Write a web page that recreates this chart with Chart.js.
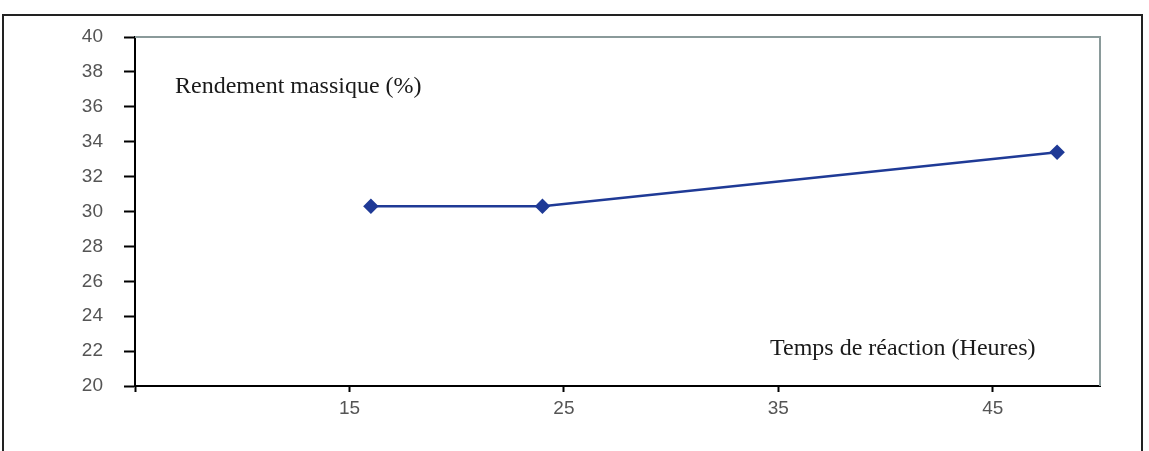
<!DOCTYPE html>
<html>
<head>
<meta charset="utf-8">
<script src="https://cdn.jsdelivr.net/npm/chart.js@4/dist/chart.umd.min.js"></script>
<style>
  html, body { margin: 0; padding: 0; background: #fff; overflow: hidden; }
  #wrap { position: relative; width: 1149px; height: 451px; }
  #frame { position: absolute; left: 2px; top: 14px; width: 1141px; height: 460px; border: 2px solid #222; box-sizing: border-box; pointer-events: none; }
  canvas { position: absolute; left: 0; top: 0; }
</style>
</head>
<body>
<div id="wrap">
  <canvas id="c" width="1149" height="451"></canvas>
  <div id="frame"></div>
</div>
<script>
// ---- data ----
const hours = [16, 24, 48];
const yieldPct = [30.3, 30.3, 33.4];
const xTickValues = [5, 15, 25, 35, 45];
const yTitle = 'Rendement massique (%)';
const xTitle = 'Temps de réaction (Heures)';

const CHART_LEFT = 135, CHART_RIGHT = 1100, CHART_TOP = 37, CHART_BOTTOM = 386;

const decor = {
  id: 'decor',
  afterDraw(chart) {
    const { ctx, chartArea: a } = chart;
    ctx.save();
    ctx.strokeStyle = '#8a9a9a';
    ctx.lineWidth = 2;
    ctx.beginPath();
    ctx.moveTo(a.left, a.top);
    ctx.lineTo(a.right, a.top);
    ctx.lineTo(a.right, a.bottom);
    ctx.stroke();
    ctx.fillStyle = '#1a1a1a';
    ctx.font = '24px "Liberation Serif", "Times New Roman", serif';
    ctx.textBaseline = 'alphabetic';
    ctx.textAlign = 'left';
    ctx.fillText(yTitle, 175, 93);
    ctx.fillText(xTitle, 770, 355);
    ctx.restore();
  }
};

new Chart(document.getElementById('c'), {
  type: 'line',
  data: {
    datasets: [{
      data: hours.map((h, i) => ({ x: h, y: yieldPct[i] })),
      borderColor: '#1f3a96',
      backgroundColor: '#1f3a96',
      borderWidth: 2.5,
      pointStyle: 'rectRot',
      pointRadius: 6,
      pointHoverRadius: 6,
      tension: 0,
      fill: false
    }]
  },
  options: {
    responsive: false,
    animation: false,
    events: [],
    layout: { padding: { left: 0, right: 1149 - CHART_RIGHT, top: CHART_TOP, bottom: 0 } },
    plugins: { legend: { display: false }, tooltip: { enabled: false }, title: { display: false } },
    scales: {
      x: {
        type: 'linear',
        min: 5, max: 50,
        afterBuildTicks(scale) { scale.ticks = xTickValues.map(v => ({ value: v })); },
        afterFit(scale) { scale.height = 451 - CHART_BOTTOM; },
        grid: { display: true, drawOnChartArea: false, drawTicks: true, tickLength: 6, tickColor: '#000', tickWidth: 2 },
        border: { display: true, color: '#000', width: 2 },
        ticks: {
          color: '#555',
          font: { family: '"Liberation Sans", Arial, sans-serif', size: 19 },
          padding: 5,
          maxRotation: 0,
          autoSkip: false,
          callback: (v) => (v === 5 ? '' : String(v))
        }
      },
      y: {
        min: 20, max: 40,
        afterFit(scale) { scale.width = CHART_LEFT; },
        grid: { display: true, drawOnChartArea: false, drawTicks: true, tickLength: 11, tickColor: '#000', tickWidth: 2 },
        border: { display: true, color: '#000', width: 2 },
        ticks: {
          stepSize: 2,
          color: '#555',
          font: { family: '"Liberation Sans", Arial, sans-serif', size: 19 },
          padding: 21
        }
      }
    }
  },
  plugins: [decor]
});
</script>
</body>
</html>
